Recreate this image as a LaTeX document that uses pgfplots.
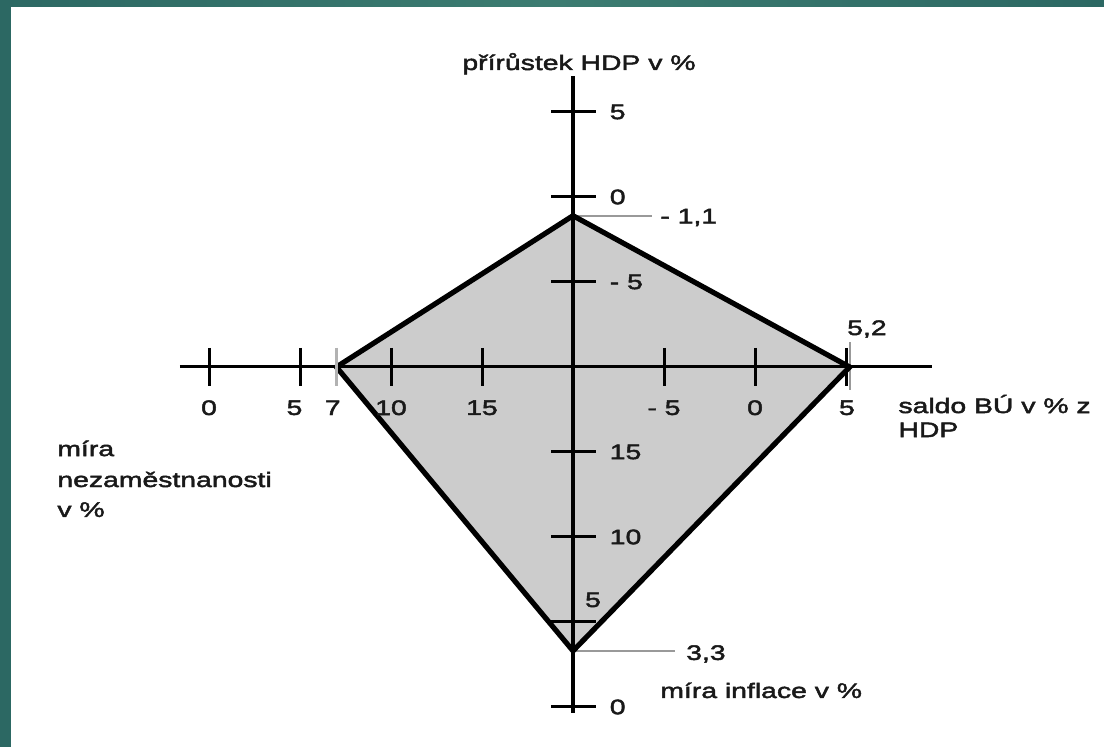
\documentclass[border=0pt]{standalone}
\usepackage{fontspec}
\setmainfont{Liberation Sans}[FakeStretch=1.35,FakeBold=2.2]
\usepackage{pgfplots}
\pgfplotsset{compat=1.18}

\definecolor{bgteal}{HTML}{2C6863}
\definecolor{bgtealhi}{HTML}{3C7C71}
\definecolor{diamond}{HTML}{CCCCCC}
\definecolor{leader}{HTML}{999999}

\begin{document}
\begin{tikzpicture}[
  lbl/.style={font=\fontsize{10.5}{12}\selectfont, inner sep=0pt, text=black!90}
]
  % page: 1104 x 747 px at 0.5pt per px
  \path[use as bounding box] (0,0) rectangle (552pt,-373.5pt);
  \fill[bgteal] (0,0) rectangle (552pt,-373.5pt);
  \shade[left color=bgteal, right color=bgteal, middle color=bgtealhi] (0,0) rectangle (552pt,-3.5pt);
  \fill[white] (5.5pt,-3.5pt) rectangle (552pt,-373.5pt);

  \begin{axis}[
    at={(13.5pt,-370.5pt)}, anchor=south west,
    x=9.1pt, y=8.5pt,
    xmin=-30, xmax=25, ymin=-22, ymax=20,
    hide axis, clip=false
  ]

  % filled diamond (left: nezam. 7, top: HDP -1,1, right: saldo 5,2, bottom: inflace 3,3)
  \addplot[fill=diamond, draw=none] coordinates {(-13,0) (0,8.9) (15.2,0) (0,-16.7)} -- cycle;

  % axes
  \addplot[black, line width=1.5pt] coordinates {(-21.6,0) (19.7,0)};
  \addplot[black, line width=1.6pt] coordinates {(0,17.1) (0,-20.35)};

  % ticks
  \addplot[only marks, mark=|, mark size=9.5pt, mark options={line width=1.5pt, black}]
    coordinates {(-20,0) (-15,0) (-10,0) (-5,0) (5,0) (10,0) (15,0)};
  \addplot[only marks, mark=|, mark size=9.5pt, mark options={line width=1.2pt, black!30}]
    coordinates {(-13,0)};
  \addplot[only marks, mark=-, mark size=11.25pt, mark options={line width=1.5pt, black}]
    coordinates {(0,15) (0,10) (0,5) (0,-5) (0,-10) (0,-15) (0,-20)};

  % leader lines
  \addplot[leader, line width=1pt] coordinates {(0,8.9) (4.34,8.9)};
  \addplot[leader, line width=1pt] coordinates {(15.2,1.47) (15.2,-1.35)};
  \addplot[leader, line width=1pt] coordinates {(0,-16.7) (5.6,-16.7)};

  % outline
  \addplot[black, line width=2.6pt, line join=miter] coordinates {(-13,0) (0,8.9) (15.2,0) (0,-16.7)} -- cycle;

  % horizontal tick labels
  \node[lbl] at (axis cs:-20,-2.4) {0};
  \node[lbl] at (axis cs:-15.3,-2.4) {5};
  \node[lbl] at (axis cs:-13.2,-2.4) {7};
  \node[lbl] at (axis cs:-10,-2.4) {10};
  \node[lbl] at (axis cs:-5,-2.4) {15};
  \node[lbl] at (axis cs:5,-2.4) {- 5};
  \node[lbl] at (axis cs:10,-2.4) {0};
  \node[lbl] at (axis cs:15.05,-2.4) {5};

  % vertical tick labels
  \node[lbl, anchor=west] at (axis cs:2.0,15) {5};
  \node[lbl, anchor=west] at (axis cs:2.0,10) {0};
  \node[lbl, anchor=west] at (axis cs:2.0,5) {- 5};
  \node[lbl, anchor=west] at (axis cs:2.0,-5) {15};
  \node[lbl, anchor=west] at (axis cs:2.0,-10) {10};
  \node[lbl] at (axis cs:1.1,-13.7) {5};
  \node[lbl, anchor=west] at (axis cs:2.0,-20) {0};

  % value labels
  \node[lbl, anchor=base west] at (axis cs:4.78,8.45) {- 1,1};
  \node[lbl, anchor=base] at (axis cs:16.15,1.88) {5,2};
  \node[lbl, anchor=base west] at (axis cs:6.2,-17.23) {3,3};

  % axis titles
  \node[lbl, anchor=base] at (axis cs:0.33,17.47) {přírůstek HDP v \%};
  \node[lbl, anchor=base west] at (axis cs:17.86,-2.71) {saldo BÚ v \% z};
  \node[lbl, anchor=base west] at (axis cs:17.86,-4.12) {HDP};
  \node[lbl, anchor=base west] at (axis cs:-28.35,-5.24) {míra};
  \node[lbl, anchor=base west] at (axis cs:-28.35,-7.06) {nezaměstnanosti};
  \node[lbl, anchor=base west] at (axis cs:-28.35,-8.82) {v \%};
  \node[lbl, anchor=base west] at (axis cs:4.78,-19.47) {míra inflace v \%};

  \end{axis}
\end{tikzpicture}
\end{document}
